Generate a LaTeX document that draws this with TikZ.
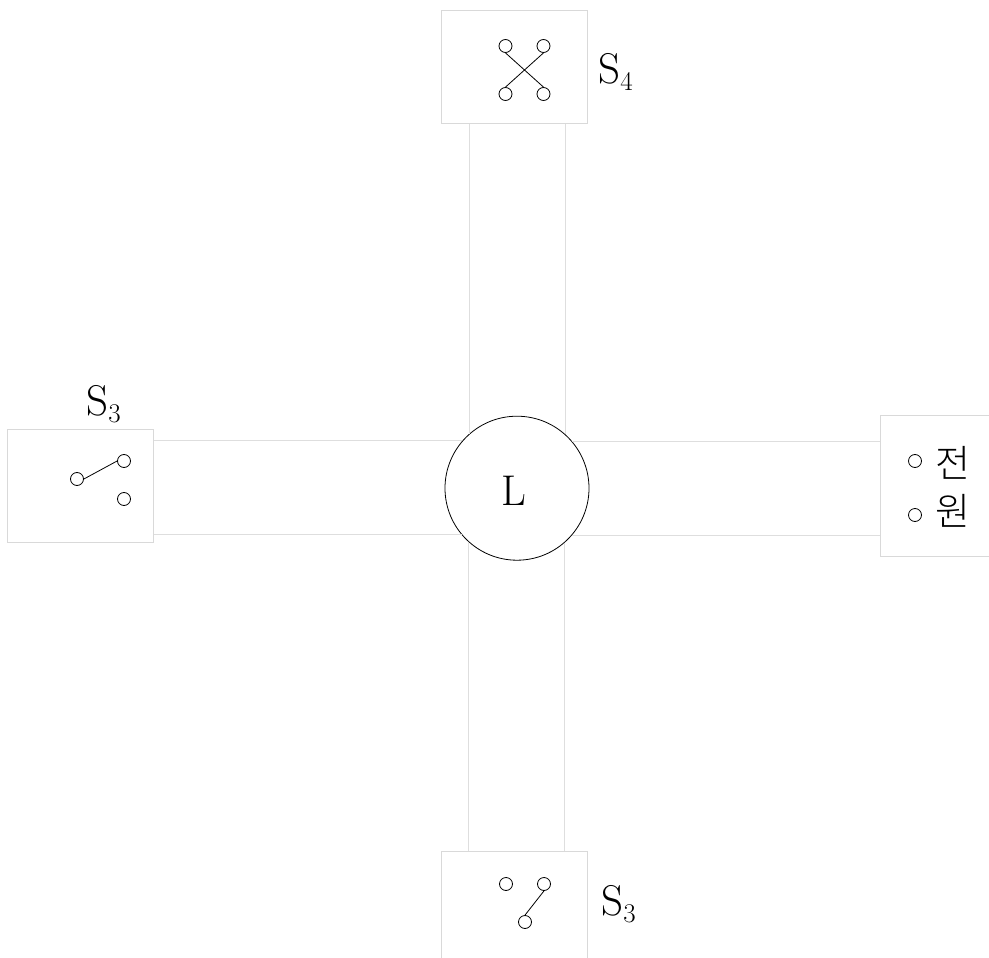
\documentclass[tikz,border=0pt]{standalone}
\usepackage{fontspec}
\newfontfamily\cjk{Noto Sans CJK KR Light}
\usetikzlibrary{positioning}
\newcommand{\subtag}[1]{\raisebox{-0.17em}{\fontsize{27}{30}\selectfont #1}}
\tikzset{
  wire/.style={draw=black!13,line width=1pt},
  boxnode/.style={draw=black!15,line width=1pt,inner sep=0,fill=white},
  term/.style={circle,draw,line width=0.8pt,inner sep=0,minimum size=13pt,fill=white},
  lever/.style={line width=0.8pt},
  tag/.style={inner sep=0,font=\fontsize{43}{50}\selectfont},
  hangul/.style={inner sep=0,font=\cjk\fontsize{38}{44}\selectfont},
}
\begin{document}
\begin{tikzpicture}[x=1pt,y=-1pt]
  \useasboundingbox (0,0) rectangle (989,958);
  % boxes
  \node (top) [boxnode,minimum width=146pt,minimum height=113pt] at (514.5,67.5) {};
  \node (left) [boxnode,minimum width=146pt,minimum height=113pt] at (80.5,486) {};
  \node (right) [boxnode,minimum width=140pt,minimum height=141pt] at (950.5,486) {};
  \node (bottom) [boxnode,minimum width=146pt,minimum height=130pt] at (514.5,916) {};
  % lamp
  \node (lamp) [circle,draw,line width=0.8pt,inner sep=0,minimum size=144pt] at (517,488.2) {};
  \node (lamptag) [tag] at (514,491) {L};
  % wires
  \draw[wire] (lamp.131.07) -- (lamp.131.07 |- top.south);
  \draw[wire] (lamp.48.93) -- (lamp.48.93 |- top.south);
  \draw[wire] (lamp.228.93) -- (lamp.228.93 |- bottom.north);
  \draw[wire] (lamp.311.07) -- (lamp.311.07 |- bottom.north);
  \draw[wire] (lamp.139.04) -- (lamp.139.04 -| left.east);
  \draw[wire] (lamp.220.96) -- (lamp.220.96 -| left.east);
  \draw[wire] (lamp.40.96) -- (lamp.40.96 -| right.west);
  \draw[wire] (lamp.319.04) -- (lamp.319.04 -| right.west);
  % top switch
  \node (t1) [term] at (505.5,46) {};
  \node (t2) [term] at (543.5,46) {};
  \node (t3) [term] at (505.5,94) {};
  \node (t4) [term] at (543.5,94) {};
  \draw[lever] (t1.south) -- (t4.north);
  \draw[lever] (t2.south) -- (t3.north);
  \node (toptag) [tag] at (615.5,72) {S\subtag{4}};
  % left switch
  \node (l1) [term] at (77,479) {};
  \node (l2) [term] at (124,461) {};
  \node (l3) [term] at (124,499) {};
  \draw[lever] (l1.east) -- (l2.west);
  \node (lefttag) [tag] at (103.5,404.5) {S\subtag{3}};
  % bottom switch
  \node (b1) [term] at (506,884) {};
  \node (b2) [term] at (544,884) {};
  \node (b3) [term] at (525,922) {};
  \draw[lever] (b3.north) -- (b2.south);
  \node (bottomtag) [tag] at (618.5,904) {S\subtag{3}};
  % source
  \node (r1) [term] at (915,461) {};
  \node (r2) [term] at (915,515) {};
  \node (jeon) [hangul] at (952.5,463) {전};
  \node (won) [hangul] at (952.5,510.5) {원};
\end{tikzpicture}
\end{document}
